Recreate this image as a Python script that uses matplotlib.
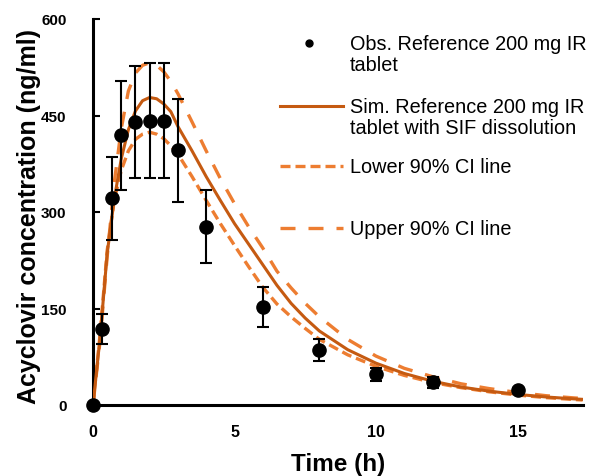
#!/usr/bin/env python3

import matplotlib

matplotlib.use("Agg")
import matplotlib.pyplot as plt
from matplotlib.lines import Line2D

obs_time = [0, 0.33, 0.67, 1.0, 1.5, 2.0, 2.5, 3.0, 4.0, 6.0, 8.0, 10.0, 12.0, 15.0]
obs_conc = [0, 118, 321, 419, 440, 442, 442, 396, 277, 153, 85, 48, 35, 24]
obs_sd = [0, 23, 65, 85, 87, 89, 89, 80, 57, 31, 17, 10, 8, 3]

# simulated profiles
sim_time = [0, 0.25, 0.5, 0.75, 1.0, 1.25, 1.5, 1.75, 2.0, 2.25, 2.5, 2.75, 3.0,
            3.5, 4.0, 4.5, 5.0, 5.5, 6.0, 6.5, 7.0, 7.5, 8.0, 9.0, 10.0, 11.0,
            12.0, 13.0, 14.0, 15.0, 16.0, 17.0, 17.3]
sim_conc = [0, 105, 235, 320, 383, 428, 457, 473, 478, 476, 468, 456, 433,
            395, 355, 318, 282, 250, 218, 186, 158, 135, 115, 86, 65, 49,
            37, 28, 21.5, 16.5, 12.5, 9.5, 8.8]
lower_conc = [0, 110, 240, 318, 365, 395, 413, 421, 424, 421, 414, 403, 390,
              355, 318, 282, 248, 215, 183, 157, 137, 119, 102, 78, 60, 46,
              35, 27, 20.5, 15.5, 11.5, 8.5, 7.8]
upper_conc = [0, 100, 230, 345, 430, 488, 516, 528, 532, 528, 518, 503, 484,
              440, 395, 352, 313, 277, 244, 208, 182, 158, 137, 102, 76, 57,
              44, 33, 25.5, 19.5, 14.5, 11, 10.2]

legend_labels = [
    "Obs. Reference 200 mg IR\ntablet",
    "Sim. Reference 200 mg IR\ntablet with SIF dissolution",
    "Lower 90% CI line",
    "Upper 90% CI line",
]

DARK = "#C55A11"
LIGHT = "#ED7D31"
W, H = 591, 477

plt.rcParams["font.family"] = ["Liberation Sans", "DejaVu Sans"]

fig = plt.figure(figsize=(W / 100, H / 100), dpi=100)
ax = fig.add_axes([93 / W, 1 - 406 / H, (582.6 - 93) / W, 386 / H])

ax.plot(sim_time, lower_conc, color=LIGHT, lw=2.4, dashes=(3.0, 1.5), zorder=2)
ax.plot(sim_time, upper_conc, color=LIGHT, lw=2.4, dashes=(4.5, 3.9), zorder=2)
ax.plot(sim_time, sim_conc, color=DARK, lw=2.2, zorder=3)
ax.errorbar(obs_time, obs_conc, yerr=obs_sd, fmt="o", color="black", ms=9.5,
            elinewidth=1.5, capsize=4.3, capthick=1.5, zorder=4, clip_on=False)

ax.set_xlim(0, 17.3)
ax.set_ylim(0, 600)
ax.set_xticks([0, 5, 10, 15])
ax.set_yticks([0, 150, 300, 450, 600])
for s in ["top", "right"]:
    ax.spines[s].set_visible(False)
for s in ["left", "bottom"]:
    ax.spines[s].set_linewidth(2.2)
ax.tick_params(axis="y", direction="in", length=5, width=1.5, pad=19,
               labelsize=11)
ax.tick_params(axis="x", direction="in", length=0, pad=14, labelsize=11.5)
for lab in ax.get_xticklabels() + ax.get_yticklabels():
    lab.set_fontweight("bold")

ax.set_xlabel("Time (h)", fontsize=17.5, fontweight="bold", va="center")
ax.set_ylabel("Acyclovir concentration (ng/ml)", fontsize=18,
              fontweight="bold", va="center")
ax.xaxis.set_label_coords(0.5, -(465 - 406) / 386)
ax.yaxis.set_label_coords((29 - 93) / (582.6 - 93), 0.49)


# legend drawn by hand so the handles sit on the first text line
def fx(px):
    return px / W


def fy(py):
    return 1 - py / H


fig.add_artist(Line2D([fx(309)], [fy(44)], marker="o", color="black", ms=5,
                      linestyle="none"))
fig.add_artist(Line2D([fx(280), fx(343)], [fy(107), fy(107)], color=DARK,
                      lw=2.2))
fig.add_artist(Line2D([fx(280), fx(343)], [fy(167), fy(167)], color=LIGHT,
                      lw=2.4, dashes=(3.0, 1.5)))
fig.add_artist(Line2D([fx(280), fx(343)], [fy(229), fy(229)], color=LIGHT,
                      lw=2.4, dashes=(4.5, 3.9)))
for label, py in zip(legend_labels, [45, 108, 168, 230]):
    fig.text(fx(350), fy(py - 10), label, fontsize=14.3, va="top", ha="left",
             linespacing=1.15)

fig.savefig("out.png", dpi=100)
